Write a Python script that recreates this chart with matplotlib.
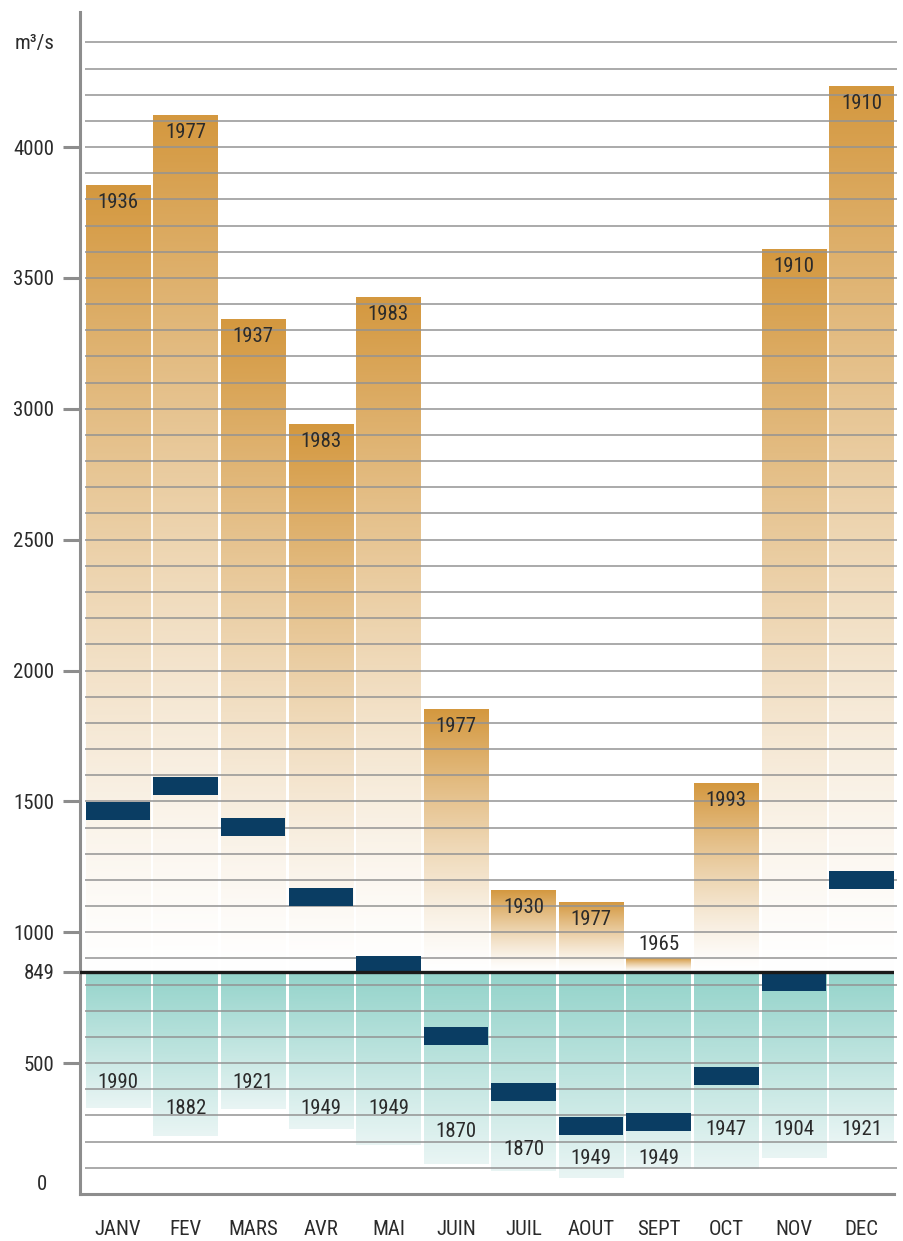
import numpy as np
import matplotlib.pyplot as plt
from matplotlib.colors import to_rgb

plt.rcParams['font.family'] = ['Roboto Condensed', 'DejaVu Sans Condensed',
                               'Liberation Sans Narrow', 'DejaVu Sans']
plt.rcParams['font.stretch'] = 'condensed'

months = ['JANV', 'FEV', 'MARS', 'AVR', 'MAI', 'JUIN',
          'JUIL', 'AOUT', 'SEPT', 'OCT', 'NOV', 'DEC']

# monthly flows, m3/s
high_flow = [3855, 4122, 3343, 2942, 3427, 1853, 1161, 1116, 902, 1570, 3610, 4233]
high_year = ['1936', '1977', '1937', '1983', '1983', '1977',
             '1930', '1977', '1965', '1993', '1910', '1910']
mean_flow = [1463, 1559, 1402, 1135, 875, 604, 390, 260, 275, 451, 810, 1200]
low_flow = [329, 222, 325, 248, 187, 115, 88, 61, 99, 96, 138, 195]
low_year = ['1990', '1882', '1921', '1949', '1949', '1870',
            '1870', '1949', '1949', '1947', '1904', '1921']
annual_mean = 849

y_ticks = [500, 849, 1000, 1500, 2000, 2500, 3000, 3500, 4000]
# heights where the low-flow years are written
low_label_y = [425, 325, 425, 325, 325, 240, 170, 135, 135, 245, 245, 245]

orange = np.array(to_rgb('#d4983f'))
white = np.array([1.0, 1.0, 1.0])
teal_top = np.array(to_rgb('#93d3ca'))
teal_bottom = np.array(to_rgb('#e9f5f4'))
navy = '#0a3d63'
grey = '#8d8d8d'
text_col = '#2b2b2b'

fig = plt.figure(figsize=(9.04, 12.41), dpi=100)
ax = fig.add_axes([80 / 904, 47 / 1241, 814 / 904, 1182 / 1241])

width = 0.955
xs = np.arange(len(months))


def gradient_bar(x, y0, y1, c_bottom, c_top, power=1.0):
    t = np.linspace(0, 1, 256)[:, None, None] ** power
    img = c_bottom + (c_top - c_bottom) * t
    ax.imshow(img, extent=[x - width / 2, x + width / 2, y0, y1],
              origin='lower', aspect='auto', interpolation='bilinear', zorder=1)


for x, hi, lo in zip(xs, high_flow, low_flow):
    gradient_bar(x, annual_mean, hi, white, orange, power=1.3)
    gradient_bar(x, lo, annual_mean, teal_bottom, teal_top)

# horizontal grid every 100 m3/s, drawn over the bars
for v in range(100, 4500, 100):
    ax.hlines(v, -0.49, 11.52, color='#939393', lw=1.1, zorder=3, clip_on=False)
ax.axhline(annual_mean, color='#1a1a1a', lw=2.4, zorder=5)

# monthly mean markers
ax.bar(xs, 68, bottom=np.array(mean_flow) - 34, width=width, color=navy, zorder=4)

for x, hi, yr in zip(xs, high_flow, high_year):
    if hi - annual_mean < 150:
        ax.annotate(yr, (x, hi), xytext=(0, 10), textcoords='offset points',
                    ha='center', va='center', fontsize=15, color=text_col, zorder=6)
    else:
        ax.annotate(yr, (x, hi), xytext=(0, -12.5), textcoords='offset points',
                    ha='center', va='center', fontsize=15, color=text_col, zorder=6)

for x, ly, yr in zip(xs, low_label_y, low_year):
    ax.text(x, ly, yr, ha='center', va='center', fontsize=15, color=text_col, zorder=6)

ax.set_xlim(-0.562, 11.48)
ax.set_ylim(0, 4516)

ax.set_yticks(y_ticks)
ax.set_yticklabels([str(v) for v in y_ticks])
ax.tick_params(axis='y', length=12, width=2.2, color=grey, pad=6.5,
               labelsize=15, labelcolor=text_col)
ax.set_xticks(xs)
ax.set_xticklabels(months)
ax.tick_params(axis='x', length=0, pad=19, labelsize=15, labelcolor=text_col)

ax.annotate('0', xy=(0, 0), xycoords=('axes fraction', 'data'),
            xytext=(-24, 7), textcoords='offset points',
            ha='right', va='center', fontsize=15, color=text_col)
ax.annotate('m³/s', xy=(0, 4397), xycoords=('axes fraction', 'data'),
            xytext=(-18, 0), textcoords='offset points',
            ha='right', va='center', fontsize=15, color=text_col)

for side in ['top', 'right']:
    ax.spines[side].set_visible(False)
for side in ['left', 'bottom']:
    ax.spines[side].set_color(grey)
    ax.spines[side].set_linewidth(2.2)

fig.savefig('out.png', dpi=100)
